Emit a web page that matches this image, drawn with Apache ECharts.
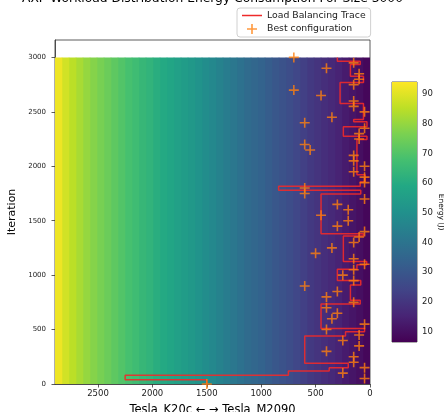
<!DOCTYPE html>
<html>
<head>
<meta charset="utf-8">
<script src="https://cdn.jsdelivr.net/npm/echarts@6/dist/echarts.min.js"></script>
<style>
html,body{margin:0;padding:0;background:#fff;}
#chart{width:444px;height:412px;}
</style>
</head>
<body>
<div id="chart"></div>
<script>
// ---- data ----
const titleText = 'AXP Workload Distribution Energy Consumption For Size 3000';
const xTicks = [0, 500, 1000, 1500, 2000, 2500];
const yTicks = [0, 500, 1000, 1500, 2000, 2500, 3000];
const cbTicks = [10, 20, 30, 40, 50, 60, 70, 80, 90];
const xMax = 2895;      // workload split extent
const iterMax = 3000;   // iterations
// energy per split column (from 0 on the right to xMax on the left)
const energyByColumn = [8, 10, 11.5, 13, 15, 16.5, 18, 19.5, 21, 23, 25, 27, 28.5, 30, 32,
  34, 35.5, 37, 39, 41, 43, 45, 47, 49, 51, 53, 54.5, 56, 58, 59.5, 61, 63, 64.5, 66.5,
  68, 70, 72, 74, 76, 78, 80, 82.5, 85, 88, 92];
const energyMin = 6.5, energyMax = 94;
// load balancing trace: split value held from traceIter[i] to traceIter[i+1]
const traceIter = [0, 40, 80, 120, 150, 190, 440, 480, 510, 735, 770, 910, 950, 1055, 1095,
  1125, 1360, 1380, 1745, 1780, 1817, 1855, 1923, 2245, 2275, 2362, 2410, 2430, 2576, 2769,
  2827, 2935, 2965, 3000];
const traceSplit = [1500, 2250, 750, 375, 200, 600, 225, 50, 450, 90, 180, 85, 300, 120, 30,
  245, 60, 450, 85, 840, 90, 45, 120, 28, 245, 28, 150, 60, 275, 60, 180, 90, 300];
// best configuration per iteration
const bestIter = [0, 50, 100, 150, 200, 250, 300, 350, 400, 450, 500, 550, 600, 650, 700, 750,
  800, 850, 900, 950, 1000, 1050, 1100, 1150, 1200, 1250, 1300, 1350, 1400, 1450, 1500, 1550,
  1600, 1650, 1700, 1750, 1800, 1850, 1900, 1950, 2000, 2050, 2100, 2150, 2200, 2250, 2300,
  2350, 2400, 2450, 2500, 2550, 2600, 2650, 2700, 2750, 2800, 2850, 2900, 2950, 3000];
const bestSplit = [1500, 50, 250, 50, 150, 150, 400, 100, 250, 100, 400, 50, 350, 300, 400, 150,
  400, 300, 600, 150, 250, 150, 50, 150, 500, 350, 150, 100, 50, 300, 200, 450,
  200, 300, 50, 600, 600, 50, 50, 150, 50, 150, 150, 550, 600, 100, 100,
  50, 600, 350, 50, 150, 150, 450, 700, 150, 100, 100, 400, 150, 700];

// ---- build ----
const viridis = ['#440154', '#482475', '#414487', '#355f8d', '#2a788e', '#21918c',
  '#22a884', '#44bf70', '#7ad151', '#bddf26', '#fde725'];
const FONT = 'DejaVu Sans';
const colW = xMax / energyByColumn.length;
const heatData = energyByColumn.map((e, i) => [i * colW, (i + 1) * colW, 0, iterMax, e]);
const tracePts = [];
for (let i = 0; i < traceSplit.length; i++) {
  tracePts.push([traceSplit[i], traceIter[i]]);
  tracePts.push([traceSplit[i], traceIter[i + 1]]);
}
const bestPts = bestIter.map((it, i) => [bestSplit[i], it]);
const plusPath = 'path://M4.2,0H5.8V4.2H10V5.8H5.8V10H4.2V5.8H0V4.2H4.2Z';
const linePath = 'path://M0,0H20V1.5H0Z';
const axisCol = '#333';
const textCol = '#222';
const plain = v => String(v);

const chart = echarts.init(document.getElementById('chart'), null, {renderer: 'canvas'});
chart.setOption({
  animation: false,
  backgroundColor: '#fff',
  graphic: [{
    type: 'text', x: 212.5, y: -7,
    style: {text: titleText, fontFamily: FONT, fontSize: 12.3, fill: '#000',
      textAlign: 'center', textVerticalAlign: 'top'}
  }],
  legend: {
    orient: 'vertical', left: 237, top: 8,
    padding: [3, 5, 3, 5], itemGap: 4, itemWidth: 20, itemHeight: 10,
    backgroundColor: '#fff', borderColor: '#d0d0d0', borderWidth: 1, borderRadius: 3,
    textStyle: {fontFamily: FONT, fontSize: 9.3, color: textCol},
    data: [{name: 'Load Balancing Trace', icon: linePath},
           {name: 'Best configuration', icon: plusPath}]
  },
  grid: [
    {left: 55, right: 74, top: 40, bottom: 28, show: true, borderColor: axisCol, borderWidth: 0.8,
      containLabel: false, outerBoundsMode: 'none'},
    {left: 392, width: 25, top: 82, height: 260, show: true, borderColor: axisCol, borderWidth: 0.8,
      containLabel: false, outerBoundsMode: 'none'}
  ],
  xAxis: [{
    type: 'value', gridIndex: 0, inverse: true, min: 0, max: xMax,
    axisLine: {show: true, onZero: false, lineStyle: {color: axisCol, width: 0.8}},
    axisTick: {show: true, length: 3.5, customValues: xTicks, lineStyle: {color: axisCol, width: 0.8}},
    axisLabel: {customValues: xTicks, formatter: plain, fontFamily: FONT, fontSize: 8.5, color: textCol, margin: 5},
    splitLine: {show: false},
    name: 'Tesla_K20c \u2190 \u2192 Tesla_M2090', nameLocation: 'middle', nameGap: 20,
    nameTextStyle: {fontFamily: FONT, fontSize: 11.5, color: '#000'}
  }, {
    type: 'value', gridIndex: 1, min: 0, max: 1, show: false
  }],
  yAxis: [{
    type: 'value', gridIndex: 0, min: 0, max: 3160,
    axisLine: {show: true, onZero: false, lineStyle: {color: axisCol, width: 0.8}},
    axisTick: {show: true, length: 3.5, customValues: yTicks, lineStyle: {color: axisCol, width: 0.8}},
    axisLabel: {customValues: yTicks, formatter: plain, fontFamily: FONT, fontSize: 7, color: textCol, margin: 9},
    splitLine: {show: false},
    name: 'Iteration', nameLocation: 'middle', nameGap: 21, nameRotate: 90,
    nameTextStyle: {fontFamily: FONT, fontSize: 11, color: '#000'}
  }, {
    type: 'value', gridIndex: 1, min: energyMin, max: energyMax, position: 'right',
    axisLine: {show: false},
    axisTick: {show: true, length: 3.5, customValues: cbTicks, lineStyle: {color: axisCol, width: 0.8}},
    axisLabel: {customValues: cbTicks, formatter: plain, fontFamily: FONT, fontSize: 8.5, color: textCol, margin: 5},
    splitLine: {show: false},
    name: 'Energy (J)', nameLocation: 'middle', nameGap: 18, nameRotate: -90,
    nameTextStyle: {fontFamily: FONT, fontSize: 7.5, color: '#000'}
  }],
  visualMap: {
    show: false, type: 'continuous', min: energyMin, max: energyMax,
    dimension: 4, seriesIndex: 0, inRange: {color: viridis}
  },
  series: [{
    type: 'custom', xAxisIndex: 0, yAxisIndex: 0, z: 1, clip: true,
    data: heatData,
    renderItem: function (params, api) {
      const p0 = api.coord([api.value(0), api.value(2)]);
      const p1 = api.coord([api.value(1), api.value(3)]);
      return {
        type: 'rect',
        shape: {x: Math.min(p0[0], p1[0]) - 0.3, y: Math.min(p0[1], p1[1]),
          width: Math.abs(p1[0] - p0[0]) + 0.6, height: Math.abs(p1[1] - p0[1])},
        style: {fill: api.visual('color')}
      };
    }
  }, {
    name: 'Load Balancing Trace', type: 'line', xAxisIndex: 0, yAxisIndex: 0, z: 3,
    data: tracePts, showSymbol: false, symbol: 'none',
    color: '#ee2a2a',
    lineStyle: {color: '#ee2a2a', width: 1.5, opacity: 0.9}
  }, {
    name: 'Best configuration', type: 'scatter', xAxisIndex: 0, yAxisIndex: 0, z: 4,
    data: bestPts, symbol: plusPath, symbolSize: 10, clip: false,
    itemStyle: {color: '#ff7f0e'}
  }, {
    type: 'custom', xAxisIndex: 1, yAxisIndex: 1, z: 1,
    data: [[0, 1, energyMin, energyMax]],
    renderItem: function (params, api) {
      const p0 = api.coord([api.value(0), api.value(2)]);
      const p1 = api.coord([api.value(1), api.value(3)]);
      return {
        type: 'rect',
        shape: {x: p0[0], y: p1[1], width: p1[0] - p0[0], height: p0[1] - p1[1]},
        style: {fill: {type: 'linear', x: 0, y: 1, x2: 0, y2: 0,
          colorStops: viridis.map((c, i) => ({offset: i / (viridis.length - 1), color: c}))}}
      };
    }
  }]
});
</script>
</body>
</html>
